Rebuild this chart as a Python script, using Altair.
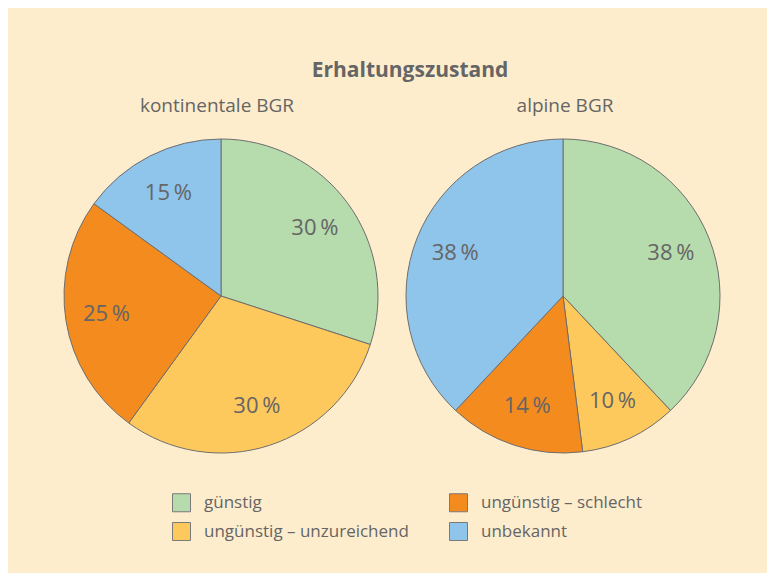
import altair as alt
import pandas as pd

categories = ["günstig", "ungünstig – unzureichend", "ungünstig – schlecht", "unbekannt"]
colors = ["#b6dbad", "#fec95c", "#f38b1f", "#8fc4eb"]
kontinental = [30, 30, 25, 15]
alpin = [38, 10, 14, 38]
regions = ["kontinentale BGR", "alpine BGR"]
title_text = "Erhaltungszustand"

rows = []
for region, vals in zip(regions, [kontinental, alpin]):
    for i, (c, v) in enumerate(zip(categories, vals)):
        rows.append({"region": region, "cat": c, "value": v, "idx": i,
                     "label": f"{v}\u2009%"})
df = pd.DataFrame(rows)

FONT = "Open Sans"
GRAY = "#656565"
W, H = 759, 565
R = 157
centers = {"kontinentale BGR": (213, 288), "alpine BGR": (555, 288)}

color = alt.Color("cat:N", scale=alt.Scale(domain=categories, range=colors),
                  legend=alt.Legend(orient="none", legendX=164, legendY=485, columns=2,
                                    title=None, symbolType="square", symbolSize=324,
                                    symbolStrokeColor="#7a7a7a", symbolStrokeWidth=1,
                                    labelFont=FONT, labelFontSize=17, labelColor=GRAY,
                                    labelOffset=13, rowPadding=6, columnPadding=38,
                                    labelLimit=400))

base = alt.Chart(df)
layers = []
for region in regions:
    cx, cy = centers[region]
    sub = base.transform_filter(alt.datum.region == region)
    arc = sub.mark_arc(radius=R, stroke="#6e6e6e", strokeWidth=1).encode(
        theta=alt.Theta("value:Q", stack=True, scale=alt.Scale(domain=[0, 100])),
        color=color,
        order=alt.Order("idx:Q"),
        x=alt.value(cx), y=alt.value(cy),
    )
    txt = sub.mark_text(radius=116, font=FONT, fontSize=22, color=GRAY).encode(
        theta=alt.Theta("value:Q", stack=True, scale=alt.Scale(domain=[0, 100])),
        order=alt.Order("idx:Q"),
        text="label:N",
        x=alt.value(cx), y=alt.value(cy),
    )
    layers += [arc, txt]

sub_df = pd.DataFrame({"t": regions, "px": [209, 557]})
subtitles = alt.Chart(sub_df).mark_text(font=FONT, fontSize=19, color=GRAY,
                                        baseline="alphabetic").encode(
    text="t:N", x=alt.X("px:Q", scale=None), y=alt.value(104))

title = alt.Chart(pd.DataFrame({"t": [title_text]})).mark_text(
    font=FONT, fontSize=21, fontWeight="bold", color=GRAY, baseline="alphabetic").encode(
    text="t:N", x=alt.value(402), y=alt.value(69))

chart = alt.layer(*layers, subtitles, title).properties(
    width=W, height=H, autosize=alt.AutoSizeParams(type="none"), padding=0,
    background="#feedcd"
).configure_view(stroke=None)

chart.save("out.html", embed_options={"renderer": "svg", "actions": False})
